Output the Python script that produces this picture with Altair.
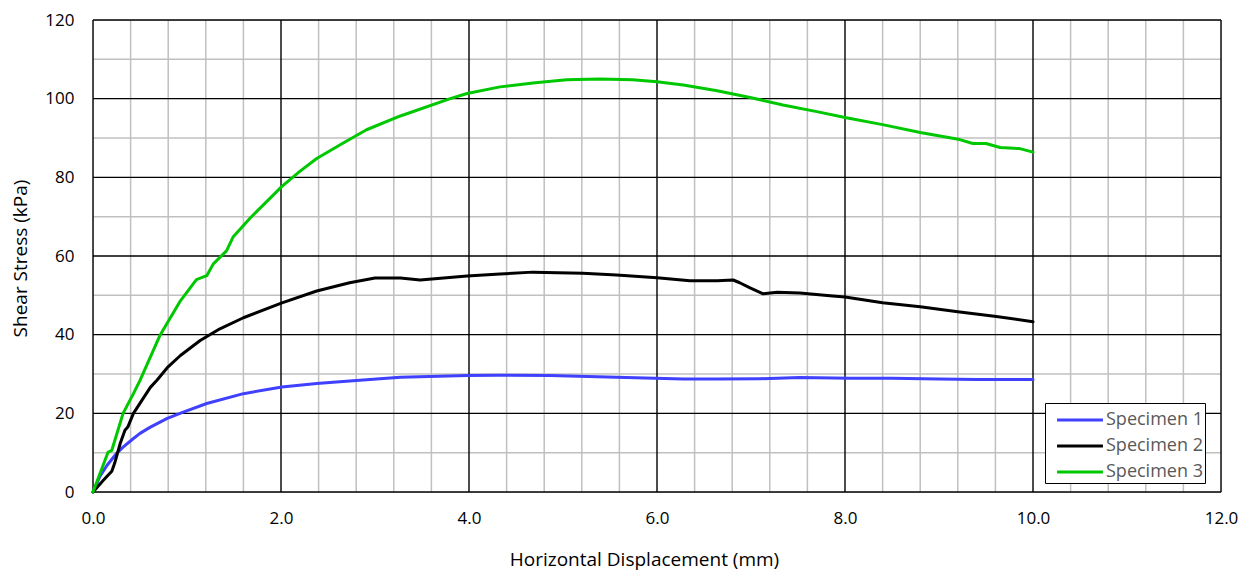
import altair as alt
import pandas as pd

# ---- data ----
s1_x = [0, 0.07, 0.15, 0.25, 0.32, 0.43, 0.5, 0.61, 0.79, 0.96, 1.21, 1.6, 2.01, 2.38, 2.73, 3.27, 3.98, 4.3, 4.86, 5.57, 6.28, 6.64, 7.1, 7.52, 8.05, 8.5, 9.0, 9.4, 10.0]
s1_y = [0, 3.8, 6.8, 9.8, 11.4, 13.6, 14.9, 16.5, 18.7, 20.3, 22.5, 25.0, 26.7, 27.6, 28.2, 29.2, 29.6, 29.7, 29.6, 29.2, 28.7, 28.7, 28.8, 29.1, 28.9, 28.9, 28.7, 28.6, 28.6]

s2_x = [0, 0.11, 0.2, 0.23, 0.29, 0.34, 0.37, 0.43, 0.61, 0.68, 0.79, 0.93, 1.14, 1.35, 1.6, 2.01, 2.38, 2.73, 3.0, 3.27, 3.48, 3.98, 4.33, 4.68, 5.21, 5.57, 6.0, 6.35, 6.64, 6.81, 6.88, 6.99, 7.13, 7.28, 7.52, 7.84, 8.0, 8.4, 8.8, 9.2, 9.61, 10.0]
s2_y = [0, 3.0, 5.3, 7.3, 12.4, 15.7, 16.5, 20.0, 26.6, 28.4, 31.6, 34.7, 38.5, 41.5, 44.3, 48.1, 51.1, 53.2, 54.4, 54.4, 53.9, 54.9, 55.4, 55.9, 55.6, 55.2, 54.5, 53.7, 53.7, 53.9, 53.2, 51.9, 50.4, 50.8, 50.6, 49.9, 49.6, 48.1, 47.1, 45.8, 44.6, 43.3]

s3_x = [0, 0.16, 0.2, 0.32, 0.43, 0.5, 0.71, 0.93, 1.1, 1.21, 1.28, 1.42, 1.49, 1.67, 1.85, 2.01, 2.2, 2.38, 2.63, 2.91, 3.27, 3.8, 3.98, 4.33, 4.68, 5.04, 5.39, 5.74, 6.0, 6.28, 6.64, 6.99, 7.34, 7.7, 8.0, 8.4, 8.8, 9.22, 9.36, 9.5, 9.65, 9.86, 10.0]
s3_y = [0, 10.1, 10.6, 20.0, 25.0, 28.4, 39.7, 48.6, 54.0, 55.0, 58.0, 61.3, 64.8, 69.6, 73.9, 77.7, 81.5, 84.8, 88.3, 92.1, 95.6, 100.0, 101.3, 103.0, 104.0, 104.8, 105.0, 104.8, 104.3, 103.5, 102.0, 100.3, 98.4, 96.7, 95.2, 93.4, 91.4, 89.6, 88.6, 88.6, 87.6, 87.3, 86.4]

series_names = ["Specimen 1", "Specimen 2", "Specimen 3"]
series_colors = ["#4040ff", "#000000", "#00c800"]

x_major = [0, 2, 4, 6, 8, 10, 12]
x_minor = [0.4, 0.8, 1.2, 1.6, 2.4, 2.8, 3.2, 3.6, 4.4, 4.8, 5.2, 5.6, 6.4, 6.8, 7.2, 7.6, 8.4, 8.8, 9.2, 9.6, 10.4, 10.8, 11.2, 11.6]
y_major = [0, 20, 40, 60, 80, 100, 120]
y_minor = [10, 30, 50, 70, 90, 110]

FONT = "Open Sans"

rows = []
for name, xs, ys in zip(series_names, [s1_x, s2_x, s3_x], [s1_y, s2_y, s3_y]):
    for i, (a, b) in enumerate(zip(xs, ys)):
        rows.append({"series": name, "x": a, "y": b, "order": i})
df = pd.DataFrame(rows)

xscale = alt.Scale(domain=[0, 12], nice=False, zero=False)
yscale = alt.Scale(domain=[0, 120], nice=False, zero=False)

xaxis = alt.Axis(values=x_major, format=".1f", grid=False, ticks=False, domain=False,
                 labelFlush=False, labelOverlap=False,
                 labelFont=FONT, labelFontSize=17, labelColor="#000000", labelPadding=18,
                 title="Horizontal Displacement (mm)", titleFont=FONT, titleFontSize=19,
                 titleFontWeight="normal", titleColor="#000000",
                 titleX=551, titleY=67, titleBaseline="middle", titleAnchor="middle")
yaxis = alt.Axis(values=y_major, format="d", grid=False, ticks=False, domain=False,
                 labelFlush=False, labelOverlap=False,
                 labelFont=FONT, labelFontSize=17, labelColor="#000000", labelPadding=19,
                 title="Shear Stress (kPa)", titleFont=FONT, titleFontSize=19,
                 titleFontWeight="normal", titleColor="#000000",
                 titleX=-73, titleY=238, titleBaseline="middle", titleAnchor="middle", titleAngle=-90)

minor_x = alt.Chart(pd.DataFrame({"v": x_minor})).mark_rule(color="#c0c0c0", strokeWidth=1.5).encode(
    x=alt.X("v:Q", scale=xscale, axis=xaxis))
minor_y = alt.Chart(pd.DataFrame({"v": y_minor})).mark_rule(color="#c0c0c0", strokeWidth=1.5).encode(
    y=alt.Y("v:Q", scale=yscale, axis=yaxis))
major_x = alt.Chart(pd.DataFrame({"v": x_major})).mark_rule(color="#000000", strokeWidth=1.4).encode(
    x=alt.X("v:Q", scale=xscale, axis=xaxis))
major_y = alt.Chart(pd.DataFrame({"v": y_major})).mark_rule(color="#000000", strokeWidth=1.4).encode(
    y=alt.Y("v:Q", scale=yscale, axis=yaxis))

lines = alt.Chart(df).mark_line(strokeWidth=3, strokeJoin="round", strokeCap="round").encode(
    x=alt.X("x:Q", scale=xscale, axis=xaxis),
    y=alt.Y("y:Q", scale=yscale, axis=yaxis),
    order="order:Q",
    color=alt.Color("series:N",
                    scale=alt.Scale(domain=series_names, range=series_colors),
                    legend=alt.Legend(orient="none", legendX=952, legendY=383, title=None,
                                      symbolType="M-1.7,0L1.7,0", symbolSize=729,
                                      symbolStrokeWidth=3, symbolOffset=18,
                                      labelFont=FONT, labelFontSize=18, labelColor="#595959",
                                      labelOffset=11,
                                      strokeColor="#000000", fillColor="#ffffff", padding=2,
                                      rowPadding=2, cornerRadius=0)),
)

chart = alt.layer(minor_x, minor_y, major_x, major_y, lines).properties(
    width=1128, height=472,
    autosize=alt.AutoSizeParams(type="none"),
    padding={"left": 85, "top": 12, "right": 20, "bottom": 78},
).configure_view(stroke="#000000", strokeWidth=1.5).configure(background="#ffffff")

chart.save("out.html", embed_options={"renderer": "svg", "actions": False})
